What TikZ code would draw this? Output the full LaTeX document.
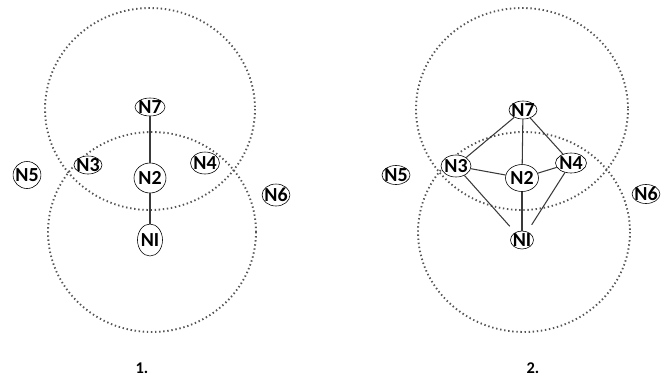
\documentclass[tikz,border=0pt]{standalone}
\usepackage{fontspec}
\setsansfont{Carlito}
\usepackage{tikz}
\usetikzlibrary{shapes.geometric}
\definecolor{ringGray}{HTML}{555555}
\definecolor{linkGray}{HTML}{3A3A3A}

\begin{document}
\begin{tikzpicture}[
  x=0.03cm, y=-0.03cm,
  ring/.style={draw=ringGray, line width=1.6pt, dash pattern=on 1.2pt off 2.3pt},
  nd/.style={
    ellipse,
    draw=black,
    line width=0.5pt,
    fill=white,
    inner sep=-1.5pt,
    font=\sffamily\bfseries\fontsize{17}{17}\selectfont
  },
  link/.style={draw=linkGray, line width=0.9pt},
  figlabel/.style={font=\sffamily\bfseries\fontsize{14}{14}\selectfont}
]
\useasboundingbox (0,0) rectangle (667,382);

% left: coverage rings
\draw[ring] (150,109) ellipse (105 and 101);
\draw[ring] (152,232) ellipse (104 and 100);

% left: nodes
\node[nd, minimum width=30*0.03cm, minimum height=18*0.03cm] (l7) at (150,107) {N7};
\node[nd, minimum width=32*0.03cm, minimum height=30*0.03cm] (l2) at (150,178) {N2};
\node[nd, minimum width=25*0.03cm, minimum height=32*0.03cm] (l1) at (150,240) {NI};
\node[nd, minimum width=28*0.03cm, minimum height=18*0.03cm] (l3) at (88,165) {N3};
\node[nd, minimum width=29*0.03cm, minimum height=22*0.03cm] (l4) at (205,163) {N4};
\node[nd, minimum width=24*0.03cm, minimum height=27*0.03cm] (l5) at (27,175) {N5};
\node[nd, minimum width=27*0.03cm, minimum height=22*0.03cm] (l6) at (276,195) {N6};

\draw[link] (l7) -- (l2);
\draw[link] (l2) -- (l1);

\node[figlabel] (c1) at (142,368) {1.};

% right: coverage rings
\draw[ring] (522,109) ellipse (106 and 101);
\draw[ring] (524,232) ellipse (106 and 100);

% right: nodes
\node[nd, minimum width=28*0.03cm, minimum height=18*0.03cm] (r7) at (523,110) {N7};
\node[nd, minimum width=33*0.03cm, minimum height=27*0.03cm] (r2) at (522,178) {N2};
\node[nd, minimum width=23*0.03cm, minimum height=18*0.03cm] (r1) at (522,240) {NI};
\node[nd, minimum width=30*0.03cm, minimum height=22*0.03cm] (r3) at (456,166) {N3};
\node[nd, minimum width=31*0.03cm, minimum height=20*0.03cm] (r4) at (571,163) {N4};
\node[nd, minimum width=28*0.03cm, minimum height=19*0.03cm] (r5) at (396,175) {N5};
\node[nd, minimum width=27*0.03cm, minimum height=19*0.03cm] (r6) at (646,194) {N6};

\draw[link] (r7) -- (r2);
\draw[link] (r2) -- (r1);
\draw[link] (r7) -- (r3);
\draw[link] (r7) -- (r4);
\draw[link] (r3) -- (r2);
\draw[link] (r4) -- (r2);
\draw[link, shorten >=7pt] (r3) -- (r1);
\draw[link, shorten >=7pt] (r4) -- (r1);

\node[figlabel] (c2) at (533,368) {2.};
\end{tikzpicture}
\end{document}
